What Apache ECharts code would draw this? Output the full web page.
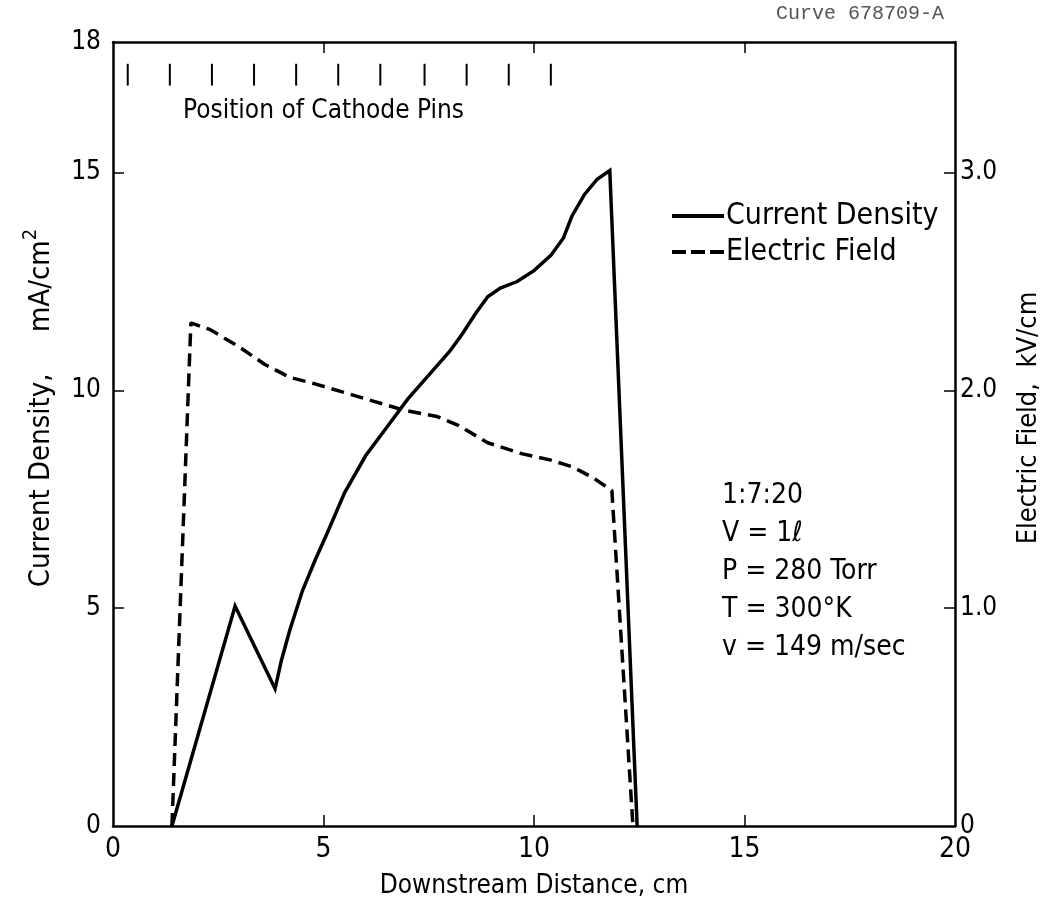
<!DOCTYPE html>
<html><head><meta charset="utf-8">
<script src="https://cdn.jsdelivr.net/npm/echarts@6/dist/echarts.min.js"></script>
<style>html,body{margin:0;padding:0;background:#fff}#c{width:1044px;height:904px}</style>
</head><body><div id="c"></div>
<script>
// ---- data ----
const xLabelValues = [0, 5, 10, 15, 20];
const leftLabelValues = [0, 5, 10, 15, 18];
const leftTickValues = [5, 10, 15];
const rightLabelValues = [0, 1, 2, 3];
const rightTickValues = [1, 2, 3];
const topTickValues = [5, 10, 15];

// Current density, mA/cm^2 vs downstream distance, cm
const currentDensity = [
  [1.4, 0], [2.9, 5.05], [3.85, 3.15], [4.0, 3.8], [4.2, 4.5], [4.5, 5.4],
  [4.8, 6.1], [5.1, 6.75], [5.5, 7.65], [6.0, 8.5], [6.5, 9.15], [7.0, 9.8],
  [7.5, 10.35], [8.0, 10.9], [8.3, 11.3], [8.6, 11.75], [8.9, 12.15],
  [9.2, 12.35], [9.6, 12.5], [10.0, 12.75], [10.4, 13.1], [10.7, 13.5],
  [10.9, 14.0], [11.2, 14.5], [11.5, 14.85], [11.8, 15.05], [12.45, 0]
];
// Electric field, kV/cm
const electricField = [
  [1.4, 0], [1.85, 2.31], [2.3, 2.28], [3.0, 2.2], [3.6, 2.12], [4.2, 2.06],
  [4.8, 2.03], [5.5, 1.99], [6.2, 1.95], [6.9, 1.91], [7.7, 1.88], [8.2, 1.84],
  [8.9, 1.76], [9.7, 1.71], [10.4, 1.68], [10.9, 1.65], [11.4, 1.6],
  [11.85, 1.54], [12.35, 0]
];
// cathode pin positions, cm
const cathodePins = [0.35, 1.35, 2.35, 3.35, 4.35, 5.35, 6.35, 7.4, 8.4, 9.4, 10.4];
const pinSpan = [17.0, 17.5];

const seriesNames = ['Current Density', 'Electric Field'];
const pinCaption = 'Position of Cathode Pins';
const notes = ['1:7:20', 'V = 1\u2113', 'P = 280 Torr', 'T = 300\u00b0K', 'v = 149 m/sec'];
const curveId = 'Curve 678709-A';

// ---- chart ----
const FONT = "'Liberation Sans Narrow', 'DejaVu Sans Condensed', 'Noto Sans', sans-serif";
const chart = echarts.init(document.getElementById('c'), null, {renderer: 'canvas'});
const axisLine = {show: true, onZero: false, lineStyle: {color: '#000', width: 2.5}};
const label = {color: '#000', fontFamily: FONT, fontSize: 26};
const tick = v => ({show: true, inside: true, length: 11, customValues: v, lineStyle: {color: '#000', width: 1.5}});

chart.setOption({
  animation: false,
  backgroundColor: '#fff',
  grid: {left: 113, right: 89, top: 42, bottom: 78, containLabel: false, outerBoundsMode: 'none'},
  legend: {
    orient: 'vertical', left: 667, top: 196, itemGap: 6, itemWidth: 52, itemHeight: 4,
    data: [
      {name: seriesNames[0], icon: 'path://M0,0H52V4H0Z'},
      {name: seriesNames[1], icon: 'path://M0,0H14V4H0Z M19,0H33V4H19Z M38,0H52V4H38Z'}
    ],
    textStyle: {color: '#000', fontFamily: FONT, fontSize: 30, padding: [0, 0, 0, -3]}
  },
  xAxis: [
    {type: 'value', min: 0, max: 20, position: 'bottom',
     axisLine, splitLine: {show: false}, axisTick: tick(topTickValues),
     axisLabel: Object.assign({customValues: xLabelValues, margin: 10}, label, {fontSize: 28}),
     name: 'Downstream Distance, cm', nameLocation: 'middle', nameGap: 47,
     nameTextStyle: {color: '#000', fontFamily: FONT, fontSize: 26}},
    {type: 'value', min: 0, max: 20, position: 'top',
     axisLine, splitLine: {show: false}, axisTick: tick(topTickValues),
     axisLabel: {show: false}}
  ],
  yAxis: [
    {type: 'value', min: 0, max: 18, position: 'left',
     axisLine, splitLine: {show: false}, axisTick: tick(leftTickValues),
     axisLabel: Object.assign({customValues: leftLabelValues, margin: 12}, label),
     name: 'Current Density,     mA/cm{sup|2}', nameLocation: 'middle', nameGap: 52, nameRotate: 90,
     nameTextStyle: {color: '#000', fontFamily: FONT, fontSize: 29, padding: [0, 0, 0, 52],
       rich: {sup: {fontFamily: FONT, fontSize: 20, verticalAlign: 'bottom', padding: [0, 0, 20, 0]}}}},
    {type: 'value', min: 0, max: 3.6, position: 'right',
     axisLine, splitLine: {show: false}, axisTick: tick(rightTickValues),
     axisLabel: Object.assign({customValues: rightLabelValues, margin: 5,
       formatter: v => v === 0 ? '0' : v.toFixed(1)}, label),
     name: 'Electric Field,  kV/cm', nameLocation: 'middle', nameGap: 60, nameRotate: 90,
     nameTextStyle: {color: '#000', fontFamily: FONT, fontSize: 27, padding: [0, 0, 0, 32]}}
  ],
  series: [
    {name: seriesNames[0], type: 'line', data: currentDensity, xAxisIndex: 0, yAxisIndex: 0,
     showSymbol: false, symbol: 'none', lineStyle: {color: '#000', width: 3.5, join: 'miter'},
     itemStyle: {color: '#000'}},
    {name: seriesNames[1], type: 'line', data: electricField, xAxisIndex: 0, yAxisIndex: 1,
     showSymbol: false, symbol: 'none', lineStyle: {color: '#000', width: 3.5, type: [13, 7]},
     itemStyle: {color: '#000'}},
    {type: 'custom', xAxisIndex: 0, yAxisIndex: 0, silent: true,
     data: cathodePins.map(x => [x, pinSpan[1]]),
     encode: {x: 0, y: 1},
     renderItem: (params, api) => {
       const x = api.value(0);
       const a = api.coord([x, pinSpan[0]]);
       const b = api.coord([x, pinSpan[1]]);
       return {type: 'line', shape: {x1: a[0], y1: a[1], x2: b[0], y2: b[1]},
               style: {stroke: '#000', lineWidth: 2}};
     }}
  ],
  graphic: [
    {type: 'text', left: 183, top: 98, style: {text: pinCaption, fill: '#000', font: '26px ' + FONT}},
    {type: 'text', left: 722, top: 477, style: {text: notes.join('\n'), fill: '#000', font: '28px ' + FONT, lineHeight: 38}},
    {type: 'text', left: 776, top: 4, style: {text: curveId, fill: '#555', font: '20px "Liberation Mono", monospace'}}
  ]
});
</script>
</body></html>
